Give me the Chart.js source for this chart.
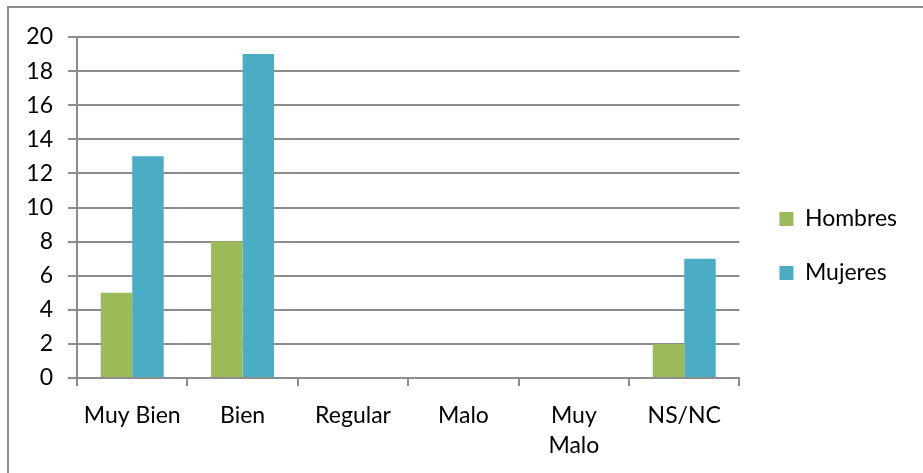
<!DOCTYPE html>
<html>
<head>
<meta charset="utf-8">
<script src="https://cdn.jsdelivr.net/npm/chart.js@4/dist/chart.umd.min.js"></script>
<style>
  html, body { margin: 0; padding: 0; background: #fff; }
  #wrap { position: relative; width: 923px; height: 473px; overflow: hidden; }
  #frame { position: absolute; left: 7px; top: 6px; width: 930px; height: 480px;
           border-top: 2px solid #8c8c8c; border-left: 2px solid #8c8c8c; box-sizing: border-box; pointer-events: none; }
  canvas { position: absolute; left: 0; top: 0; }
</style>
</head>
<body>
<div id="wrap">
  <canvas id="c" width="923" height="473"></canvas>
  <div id="frame"></div>
</div>
<script>
const categories = ['Muy Bien', 'Bien', 'Regular', 'Malo', ['Muy', 'Malo'], 'NS/NC'];
const hombres = [5, 8, 0, 0, 0, 2];
const mujeres = [13, 19, 0, 0, 0, 7];
const yTicks = { min: 0, max: 20, step: 2 };

const FONT = 'Lato, Calibri, "Open Sans", sans-serif';
const GRID = '#8c8c8c';
const FS = 23;

const legendShift = {
  id: 'legendShift',
  afterLayout(chart) {
    const lg = chart.legend;
    if (lg) { lg.left += 9; lg.right += 9; lg.top -= 9; lg.bottom -= 9; }
  }
};

new Chart(document.getElementById('c'), {
  type: 'bar',
  data: {
    labels: categories,
    datasets: [
      { label: 'Hombres', data: hombres, backgroundColor: '#9BBB59', borderWidth: 0 },
      { label: 'Mujeres', data: mujeres, backgroundColor: '#4BACC6', borderWidth: 0 }
    ]
  },
  plugins: [legendShift],
  options: {
    responsive: false,
    animation: false,
    devicePixelRatio: 1,
    layout: { padding: { top: 37, right: 25, bottom: 0, left: 0 } },
    datasets: { bar: { categoryPercentage: 0.57, barPercentage: 1.0 } },
    plugins: {
      legend: {
        position: 'right',
        labels: {
          boxWidth: 14, boxHeight: 14, padding: 31,
          color: '#000',
          font: { family: FONT, size: FS }
        }
      },
      tooltip: { enabled: false }
    },
    scales: {
      x: {
        grid: { display: true, drawOnChartArea: false, drawTicks: true, tickLength: 8, offset: true, color: GRID, lineWidth: 2 },
        border: { display: true, color: GRID, width: 2 },
        ticks: { color: '#000', font: { family: FONT, size: FS, lineHeight: 1.33 }, padding: 14, maxRotation: 0, autoSkip: false },
        afterFit: (s) => { s.height = 95; }
      },
      y: {
        min: yTicks.min, max: yTicks.max,
        grid: { color: GRID, lineWidth: 2, tickLength: 9, drawTicks: true },
        border: { display: true, color: GRID, width: 2 },
        ticks: { stepSize: yTicks.step, color: '#000', font: { family: FONT, size: FS }, padding: 15 },
        afterFit: (s) => { s.width = 77; }
      }
    }
  }
});
</script>
</body>
</html>
